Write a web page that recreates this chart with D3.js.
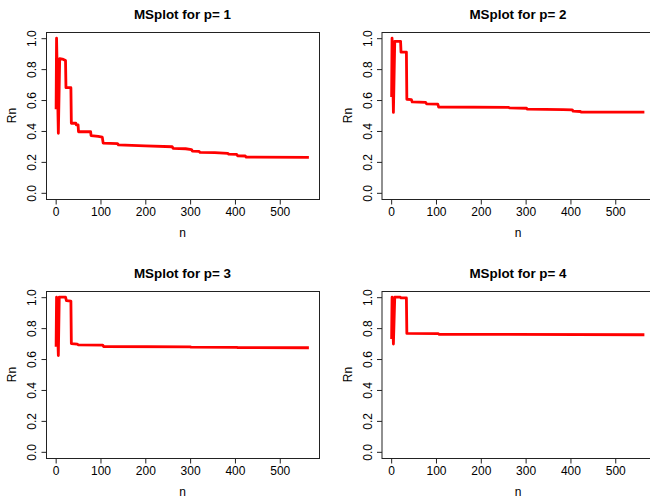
<!DOCTYPE html>
<html>
<head>
<meta charset="utf-8">
<script src="https://cdn.jsdelivr.net/npm/d3@7"></script>
<style>
  html, body { margin: 0; padding: 0; background: #fff; }
  svg { display: block; }
  text { font-family: "Liberation Sans", Arial, Helvetica, sans-serif; fill: #000; }
</style>
</head>
<body>
<svg id="chart" width="650" height="500"></svg>
<script>
// ---- Data (key points: [n, Rn]) ----
const titles = ["MSplot for p= 1", "MSplot for p= 2", "MSplot for p= 3", "MSplot for p= 4"];
const xTicks = [0, 100, 200, 300, 400, 500];
const yTicks = [0.0, 0.2, 0.4, 0.6, 0.8, 1.0];
const xLabel = "n";
const yLabel = "Rn";

const seriesP1 = [
  [1, 0.54], [2, 1.0], [6, 0.385], [9, 0.868], [15, 0.865], [22, 0.855], [23, 0.68],
  [34, 0.68], [35, 0.45], [45, 0.45], [46, 0.44], [50, 0.44], [51, 0.395], [78, 0.395],
  [79, 0.37], [95, 0.365], [104, 0.36], [106, 0.322], [138, 0.318], [140, 0.31],
  [200, 0.303], [260, 0.298], [262, 0.288], [290, 0.285], [303, 0.28], [305, 0.27],
  [320, 0.268], [322, 0.261], [355, 0.26], [384, 0.255], [386, 0.25], [404, 0.248],
  [406, 0.239], [423, 0.238], [425, 0.231], [565, 0.229]
];
const seriesP2 = [
  [1, 0.62], [2, 1.0], [5, 0.52], [8, 0.98], [21, 0.98], [22, 0.91], [34, 0.91],
  [35, 0.605], [45, 0.603], [47, 0.588], [77, 0.585], [79, 0.575], [104, 0.574],
  [106, 0.555], [262, 0.553], [264, 0.549], [302, 0.547], [304, 0.541], [384, 0.538],
  [404, 0.536], [406, 0.528], [422, 0.526], [424, 0.522], [565, 0.522]
];
const seriesP3 = [
  [1, 0.68], [2, 1.0], [6, 0.623], [8, 1.0], [22, 1.0], [24, 0.978], [34, 0.975],
  [35, 0.70], [48, 0.697], [50, 0.692], [105, 0.69], [107, 0.681], [300, 0.679],
  [302, 0.677], [404, 0.676], [406, 0.674], [565, 0.673]
];
const seriesP4 = [
  [1, 0.73], [2, 1.0], [5, 0.697], [8, 1.0], [20, 1.0], [22, 0.995], [34, 0.995],
  [35, 0.766], [105, 0.764], [107, 0.76], [565, 0.757]
];
const allSeries = [seriesP1, seriesP2, seriesP3, seriesP4];

// ---- Layout ----
const svg = d3.select("#chart");
const boxW = 273, boxH = 167;
const colOffset = 335.5, rowOffset = 259;
const baseLeft = 46, baseTop = 32;

// R-style 4% extended domains
const xDomain = [1 - 0.04 * 564, 565 + 0.04 * 564];
const yDomain = [-0.04, 1.04];

allSeries.forEach((data, i) => {
  const col = i % 2, row = Math.floor(i / 2);
  const left = baseLeft + col * colOffset;
  const top = baseTop + row * rowOffset;
  const g = svg.append("g").attr("transform", `translate(${left},${top})`);

  const x = d3.scaleLinear().domain(xDomain).range([0, boxW]);
  const y = d3.scaleLinear().domain(yDomain).range([boxH, 0]);

  // line
  const line = d3.line().x(d => x(d[0])).y(d => y(d[1]));
  g.append("path")
    .datum(data)
    .attr("d", line)
    .attr("fill", "none")
    .attr("stroke", "#ff0000")
    .attr("stroke-width", 2.8)
    .attr("stroke-linejoin", "round");

  // box
  g.append("rect")
    .attr("x", 0.5).attr("y", 0.5)
    .attr("width", boxW).attr("height", boxH)
    .attr("fill", "none").attr("stroke", "#222").attr("stroke-width", 1);

  // x axis
  const xAxis = d3.axisBottom(x).tickValues(xTicks).tickSizeInner(5).tickSizeOuter(0)
    .tickPadding(3).tickFormat(d3.format("d"));
  const gx = g.append("g").attr("transform", `translate(0,${boxH + 0.5})`).call(xAxis);
  gx.select(".domain").remove();
  gx.selectAll(".tick line").attr("stroke", "#222");
  gx.selectAll("text").attr("font-size", 12).attr("fill", "#000")
    .attr("font-family", "Liberation Sans, Arial, sans-serif");

  // y axis
  const yAxis = d3.axisLeft(y).tickValues(yTicks).tickSizeInner(5).tickSizeOuter(0)
    .tickPadding(0).tickFormat(d3.format(".1f"));
  const gy = g.append("g").attr("transform", `translate(0.5,0)`).call(yAxis);
  gy.select(".domain").remove();
  gy.selectAll(".tick line").attr("stroke", "#222");
  gy.selectAll("text")
    .attr("font-size", 12).attr("fill", "#000")
    .attr("font-family", "Liberation Sans, Arial, sans-serif")
    .attr("x", null).attr("dy", null)
    .attr("text-anchor", "middle")
    .attr("transform", "translate(-10.5,0) rotate(-90)");

  // title
  g.append("text")
    .attr("x", boxW / 2).attr("y", -13.5)
    .attr("text-anchor", "middle")
    .attr("font-size", 13.4).attr("font-weight", "bold")
    .text(titles[i]);

  // axis labels
  g.append("text")
    .attr("x", boxW / 2).attr("y", boxH + 37.5)
    .attr("text-anchor", "middle")
    .attr("font-size", 12)
    .text(xLabel);
  g.append("text")
    .attr("transform", `translate(-30,${boxH / 2}) rotate(-90)`)
    .attr("text-anchor", "middle")
    .attr("font-size", 12)
    .text(yLabel);
});
</script>
</body>
</html>
